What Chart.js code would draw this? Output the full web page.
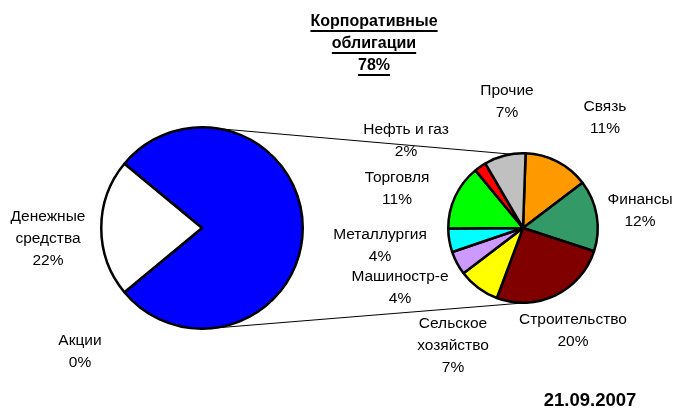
<!DOCTYPE html>
<html><head><meta charset="utf-8">
<script src="https://cdn.jsdelivr.net/npm/chart.js@4"></script>
<style>
html,body{margin:0;padding:0;background:#fff;}
#wrap{position:relative;width:674px;height:409px;overflow:hidden;}
#wrap canvas{position:absolute;left:0;top:0;}
</style></head><body>
<div id="wrap"><canvas id="big" width="674" height="409"></canvas><canvas id="small" width="674" height="409"></canvas></div>
<script>
// ---- DATA ----
const mainCategories = ['Корпоративные облигации', 'Денежные средства', 'Акции'];
const mainValues = [78, 22, 0];
const bondSectors = ['Связь', 'Финансы', 'Строительство', 'Сельское хозяйство', 'Машиностр-е', 'Металлургия', 'Торговля', 'Нефть и газ', 'Прочие'];
const bondValues = [11, 12, 20, 7, 4, 4, 11, 2, 7];
const reportDate = '21.09.2007';

// ---- STYLE / LAYOUT ----
const mainLabelLines = [['Корпоративные', 'облигации'], ['Денежные', 'средства'], ['Акции']];
const sectorLabelLines = [['Связь'], ['Финансы'], ['Строительство'], ['Сельское', 'хозяйство'], ['Машиностр-е'], ['Металлургия'], ['Торговля'], ['Нефть и газ'], ['Прочие']];
const mainColors = ['#0000FF', '#FFFFFF', '#808080'];
const sectorColors = ['#FF9900', '#339966', '#800000', '#FFFF00', '#CC99FF', '#00FFFF', '#00FF00', '#FF0000', '#C0C0C0'];
// label block centers, as offsets from the pie centre
const mainLabelOffsets = [[172, -184], [-154, 11], [-122, 124]];
const sectorLabelOffsets = [[82, -110], [117, -17], [50, 103], [-70, 118], [-123, 60], [-143, 18], [-126, -39], [-117, -87], [-16, -126]];
const FONT = '"Liberation Sans", Arial, sans-serif';
const LINE_H = 22;

function pctText(v) { return Math.round(v) + '%'; }

function drawBlock(ctx, cx, cy, lines, bold, underline) {
  ctx.save();
  ctx.font = bold ? 'bold 16px ' + FONT : '15.5px ' + FONT;
  ctx.fillStyle = '#000';
  ctx.textAlign = 'center';
  ctx.textBaseline = 'middle';
  const y0 = cy - (lines.length - 1) * LINE_H / 2;
  lines.forEach((t, i) => {
    const y = y0 + i * LINE_H;
    ctx.fillText(t, cx, y);
    if (underline) {
      const w = ctx.measureText(t).width;
      ctx.fillRect(cx - w / 2, y + 8, w, 2);
    }
  });
  ctx.restore();
}

function labelPlugin(linesArr, offsets, values, boldIdx) {
  return {
    id: 'sliceLabels',
    afterDraw(chart) {
      const ctx = chart.ctx;
      const arcs = chart.getDatasetMeta(0).data;
      arcs.forEach((a, i) => {
        const lines = linesArr[i].concat([pctText(values[i])]);
        const b = (i === boldIdx);
        drawBlock(ctx, a.x + offsets[i][0], a.y + offsets[i][1], lines, b, b);
      });
    }
  };
}

const baseOpts = {
  responsive: false,
  animation: false,
  events: [],
  plugins: { legend: { display: false }, tooltip: { enabled: false }, title: { display: false } }
};

const bigChart = new Chart(document.getElementById('big'), {
  type: 'pie',
  data: {
    labels: mainCategories,
    datasets: [{
      data: mainValues,
      backgroundColor: mainColors,
      borderColor: '#000',
      borderWidth: mainValues.map(v => v > 0 ? 2.5 : 0)
    }]
  },
  options: Object.assign({}, baseOpts, {
    rotation: -50.4,
    layout: { padding: { left: 100, top: 126, right: 370, bottom: 79 } }
  }),
  plugins: [labelPlugin(mainLabelLines, mainLabelOffsets, mainValues, 0)]
});

const connectorPlugin = {
  id: 'connectors',
  afterDraw(chart) {
    const ctx = chart.ctx;
    const A = bigChart.getDatasetMeta(0).data[0];
    const B = chart.getDatasetMeta(0).data[0];
    const deg = Math.PI / 180;
    const pairs = [[-90, -99], [85, 86]];
    ctx.save();
    ctx.strokeStyle = '#000';
    ctx.lineWidth = 1;
    pairs.forEach(([a1, a2]) => {
      ctx.beginPath();
      ctx.moveTo(A.x + A.outerRadius * Math.cos(a1 * deg), A.y + A.outerRadius * Math.sin(a1 * deg));
      ctx.lineTo(B.x + B.outerRadius * Math.cos(a2 * deg), B.y + B.outerRadius * Math.sin(a2 * deg));
      ctx.stroke();
    });
    ctx.font = 'bold 18.5px ' + FONT;
    ctx.fillStyle = '#000';
    ctx.textAlign = 'center';
    ctx.textBaseline = 'middle';
    ctx.fillText(reportDate, 590, 401);
    ctx.restore();
  }
};

const smallChart = new Chart(document.getElementById('small'), {
  type: 'pie',
  data: {
    labels: bondSectors,
    datasets: [{
      data: bondValues,
      backgroundColor: sectorColors,
      borderColor: '#000',
      borderWidth: 2.5
    }]
  },
  options: Object.assign({}, baseOpts, {
    rotation: 2,
    layout: { padding: { left: 447, top: 152, right: 75, bottom: 105 } }
  }),
  plugins: [labelPlugin(sectorLabelLines, sectorLabelOffsets, bondValues, -1), connectorPlugin]
});
</script>
</body></html>
